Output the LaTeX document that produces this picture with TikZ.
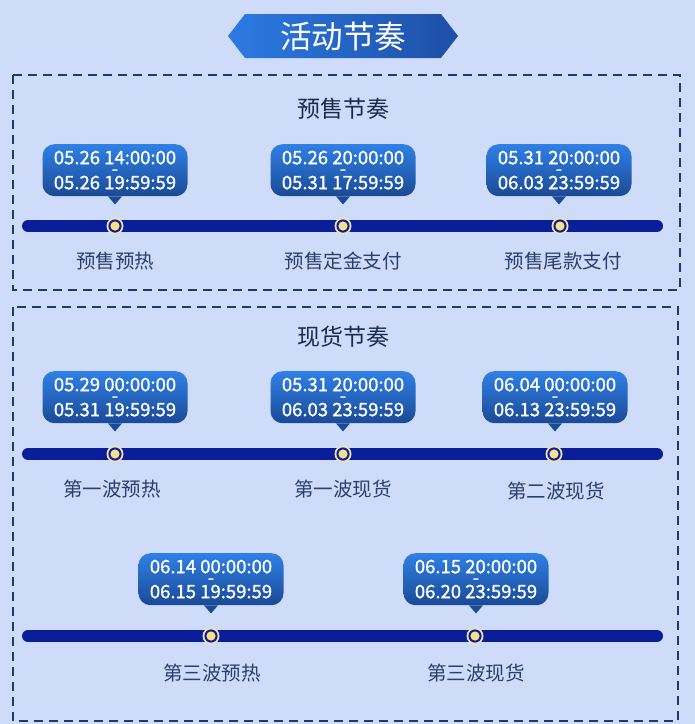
\documentclass[tikz,border=0pt]{standalone}
\usepackage{fontspec}
\setmainfont{Noto Sans CJK SC}
\newfontfamily\datefont[FakeBold=1.2]{Noto Sans CJK SC}
\usetikzlibrary{shadings}
\definecolor{bgc}{HTML}{CEDCFA}
\definecolor{dashc}{HTML}{1D3A6B}
\definecolor{barc}{HTML}{0A1E99}
\definecolor{labc}{HTML}{2B3F6A}
\definecolor{headc}{HTML}{1A2A4A}
\definecolor{bubtop}{HTML}{2F80E6}
\definecolor{bubbot}{HTML}{1B4A96}
\definecolor{banl}{HTML}{2C7BE3}
\definecolor{banr}{HTML}{1D4FA6}
\definecolor{creamc}{HTML}{F3E2B0}
\definecolor{dotc}{HTML}{F8DF8A}
\tikzset{
  frame/.style={draw=dashc, line width=1.8pt, dash pattern=on 9pt off 6pt},
  heading/.style={text=headc, font=\fontsize{23}{26}\selectfont, inner sep=0},
  lab/.style={text=labc, font=\fontsize{19.5}{22}\selectfont, inner sep=0},
  bubble/.style={rounded corners=12pt, top color=bubtop, bottom color=bubbot,
    minimum width=145pt, minimum height=52pt, inner sep=0},
  btext/.style={text=white, font=\datefont\fontsize{18.5}{20}\selectfont, inner sep=0, anchor=base},
  bar/.style={draw=barc, line width=12pt, line cap=round},
  dotnode/.style={circle, fill=creamc, minimum size=17pt, inner sep=0,
    path picture={\fill[barc] (path picture bounding box.center) circle (6.6pt);
                  \fill[dotc] (path picture bounding box.center) circle (4.6pt);}},
}
\newcommand{\bub}[5]{% name, x, ytop, line1, line2
  \node[bubble, anchor=north] (#1) at (#2,#3) {};
  \fill[bubbot] ([xshift=-7pt]#1.south) -- ([xshift=7pt]#1.south) -- ([yshift=-8pt]#1.south) -- cycle;
  \node[btext] (#1a) at ([yshift=6pt]#1.center) {#4};
  \node[btext] (#1b) at ([yshift=-5pt]#1.center) {-};
  \node[btext] (#1c) at ([yshift=-19pt]#1.center) {#5};
}
\begin{document}
\begin{tikzpicture}[x=1pt,y=-1pt]
\fill[bgc] (0,0) rectangle (695,724);
\useasboundingbox (0,0) rectangle (695,724);
% banner
\shade[left color=banl, right color=banr] (228,36) -- (245,14) -- (441,14) -- (458,36) -- (441,58) -- (245,58) -- cycle;
\node[text=white, font=\fontsize{31.5}{34}\selectfont, inner sep=0] (title) at (343,37) {活动节奏};
% frames
\draw[frame] (13,75) rectangle (680,290);
\draw[frame] (13,307) rectangle (678,721);
% section 1
\node[heading] (h1) at (343,109) {预售节奏};
\draw[bar] (28,226) coordinate (b1s) -- (657,226) coordinate (b1e);
\bub{p1}{115}{144}{05.26 14:00:00}{05.26 19:59:59}
\bub{p2}{343}{144}{05.26 20:00:00}{05.31 17:59:59}
\bub{p3}{559}{144}{05.31 20:00:00}{06.03 23:59:59}
\node[dotnode] (d1) at (115,226) {};
\node[dotnode] (d2) at (343,226) {};
\node[dotnode] (d3) at (560,226) {};
\node[lab] (l1) at (115,261) {预售预热};
\node[lab] (l2) at (343,261) {预售定金支付};
\node[lab] (l3) at (563,261) {预售尾款支付};
% section 2
\node[heading] (h2) at (343,337) {现货节奏};
\draw[bar] (28,454) -- (657,454);
\bub{q1}{115}{371}{05.29 00:00:00}{05.31 19:59:59}
\bub{q2}{343}{371}{05.31 20:00:00}{06.03 23:59:59}
\bub{q3}{555}{371}{06.04 00:00:00}{06.13 23:59:59}
\node[dotnode] (e1) at (115,454) {};
\node[dotnode] (e2) at (343,454) {};
\node[dotnode] (e3) at (554,454) {};
\node[lab] (m1) at (112,489) {第一波预热};
\node[lab] (m2) at (343,489) {第一波现货};
\node[lab] (m3) at (556,491) {第二波现货};
\draw[bar] (28,636) -- (657,636);
\bub{r1}{211}{553}{06.14 00:00:00}{06.15 19:59:59}
\bub{r2}{476}{553}{06.15 20:00:00}{06.20 23:59:59}
\node[dotnode] (f1) at (211,636) {};
\node[dotnode] (f2) at (475,636) {};
\node[lab] (n1) at (212,673) {第三波预热};
\node[lab] (n2) at (476,673) {第三波现货};
\end{tikzpicture}
\end{document}
